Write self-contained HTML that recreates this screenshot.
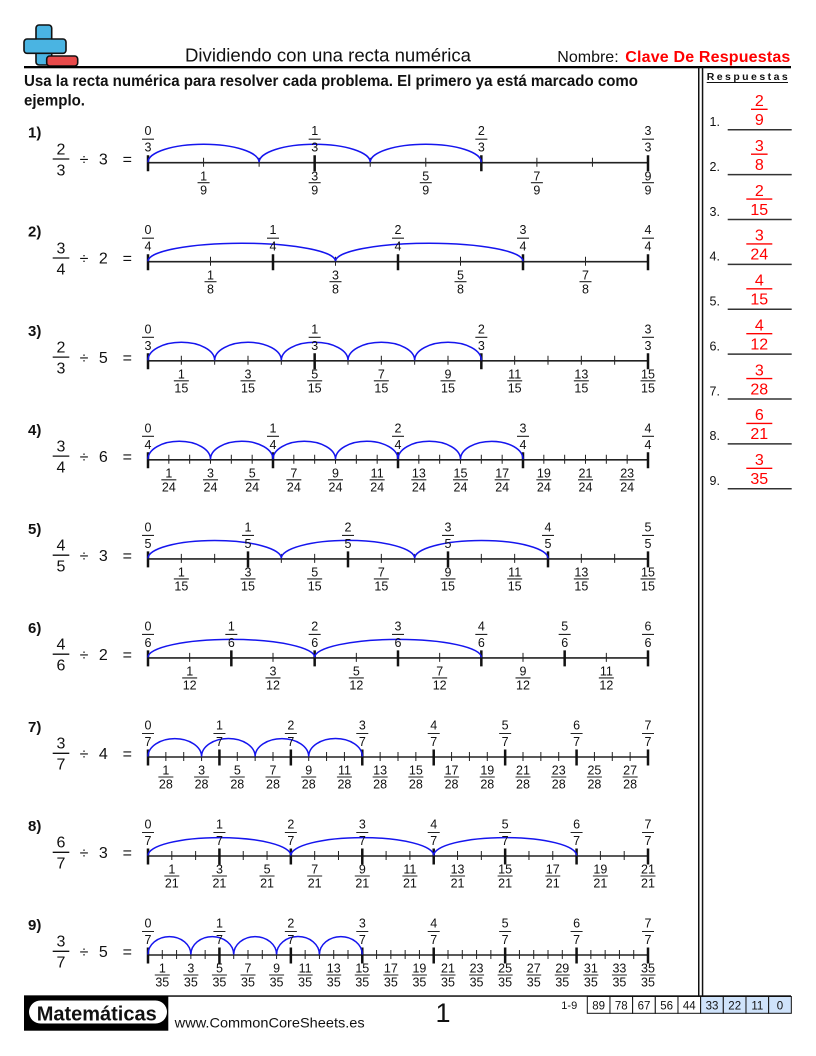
<!DOCTYPE html>
<html><head><meta charset="utf-8">
<style>
html,body{margin:0;padding:0;background:#fff;}
svg{display:block;}
text{font-family:"Liberation Sans",sans-serif;fill:#111;}
.t{font-size:12.5px;text-anchor:middle;}
.e{font-size:16px;text-anchor:middle;}
.n{font-size:15px;font-weight:bold;}
.ax{stroke:#222;stroke-width:1.6;}
.mi{stroke:#222;stroke-width:9;}
.ma{stroke:#111;stroke-width:16;}
.br{stroke:#222;stroke-width:1.1;}
.eb{stroke:#111;stroke-width:1.3;}
.arc{fill:none;stroke:#1515ee;stroke-width:1.5;}
.r{fill:#f00;font-size:16px;text-anchor:middle;}
.rb{stroke:#f00;stroke-width:1.3;}
.al{stroke:#333;stroke-width:1.5;}
.bx{font-size:11.5px;text-anchor:middle;}
.q{font-size:12.5px;}
</style></head>
<body>
<svg width="816" height="1056" viewBox="0 0 816 1056" xmlns="http://www.w3.org/2000/svg">
<!-- logo -->
<rect x="36" y="25" width="15.7" height="40" rx="3" fill="#4ab4e2" stroke="#111" stroke-width="1.6"/>
<rect x="24" y="39" width="42" height="14.3" rx="3" fill="#4ab4e2" stroke="#111" stroke-width="1.6"/>
<rect x="36.8" y="39.8" width="14.1" height="12.7" fill="#4ab4e2"/>
<rect x="46.7" y="56" width="31" height="10" rx="3" fill="#e84a4a" stroke="#111" stroke-width="1.6"/>
<!-- header -->
<text x="328" y="61.7" font-size="18.5" text-anchor="middle" textLength="286" lengthAdjust="spacingAndGlyphs">Dividiendo con una recta numérica</text>
<text x="557.3" y="62" font-size="16">Nombre:</text>
<text x="625.3" y="62" font-size="16" font-weight="bold" style="fill:#f00" textLength="165" lengthAdjust="spacing">Clave De Respuestas</text>
<rect x="24" y="66" width="767" height="2.3" fill="#000"/>
<text x="24" y="86" font-size="15.5" font-weight="bold" textLength="614" lengthAdjust="spacingAndGlyphs">Usa la recta numérica para resolver cada problema. El primero ya está marcado como</text>
<text x="24" y="105.5" font-size="15.5" font-weight="bold" textLength="61" lengthAdjust="spacingAndGlyphs">ejemplo.</text>
<!-- double vertical line -->
<rect x="698" y="67" width="1.5" height="929" fill="#111"/>
<rect x="701.8" y="67" width="1.5" height="929" fill="#111"/>
<!-- answers -->
<text x="706.7" y="80" font-size="10.5" font-weight="bold" textLength="81" lengthAdjust="spacing">Respuestas</text>
<line x1="706.7" x2="788" y1="82.5" y2="82.5" stroke="#111" stroke-width="1"/>

<g transform="translate(0,129.7)"><text x="709.5" y="-3.7" class="q">1.</text><line class="al" x1="727.7" x2="791.7" y1="0" y2="0"/><text class="r" x="759.3" y="-23.7">2</text><line class="rb" x1="751" x2="767.6" y1="-20.4" y2="-20.4"/><text class="r" x="759.3" y="-4.7">9</text></g>
<g transform="translate(0,174.58)"><text x="709.5" y="-3.7" class="q">2.</text><line class="al" x1="727.7" x2="791.7" y1="0" y2="0"/><text class="r" x="759.3" y="-23.7">3</text><line class="rb" x1="751" x2="767.6" y1="-20.4" y2="-20.4"/><text class="r" x="759.3" y="-4.7">8</text></g>
<g transform="translate(0,219.45)"><text x="709.5" y="-3.7" class="q">3.</text><line class="al" x1="727.7" x2="791.7" y1="0" y2="0"/><text class="r" x="759.3" y="-23.7">2</text><line class="rb" x1="746.3" x2="772.3" y1="-20.4" y2="-20.4"/><text class="r" x="759.3" y="-4.7">15</text></g>
<g transform="translate(0,264.33)"><text x="709.5" y="-3.7" class="q">4.</text><line class="al" x1="727.7" x2="791.7" y1="0" y2="0"/><text class="r" x="759.3" y="-23.7">3</text><line class="rb" x1="746.3" x2="772.3" y1="-20.4" y2="-20.4"/><text class="r" x="759.3" y="-4.7">24</text></g>
<g transform="translate(0,309.2)"><text x="709.5" y="-3.7" class="q">5.</text><line class="al" x1="727.7" x2="791.7" y1="0" y2="0"/><text class="r" x="759.3" y="-23.7">4</text><line class="rb" x1="746.3" x2="772.3" y1="-20.4" y2="-20.4"/><text class="r" x="759.3" y="-4.7">15</text></g>
<g transform="translate(0,354.08)"><text x="709.5" y="-3.7" class="q">6.</text><line class="al" x1="727.7" x2="791.7" y1="0" y2="0"/><text class="r" x="759.3" y="-23.7">4</text><line class="rb" x1="746.3" x2="772.3" y1="-20.4" y2="-20.4"/><text class="r" x="759.3" y="-4.7">12</text></g>
<g transform="translate(0,398.95)"><text x="709.5" y="-3.7" class="q">7.</text><line class="al" x1="727.7" x2="791.7" y1="0" y2="0"/><text class="r" x="759.3" y="-23.7">3</text><line class="rb" x1="746.3" x2="772.3" y1="-20.4" y2="-20.4"/><text class="r" x="759.3" y="-4.7">28</text></g>
<g transform="translate(0,443.83)"><text x="709.5" y="-3.7" class="q">8.</text><line class="al" x1="727.7" x2="791.7" y1="0" y2="0"/><text class="r" x="759.3" y="-23.7">6</text><line class="rb" x1="746.3" x2="772.3" y1="-20.4" y2="-20.4"/><text class="r" x="759.3" y="-4.7">21</text></g>
<g transform="translate(0,488.7)"><text x="709.5" y="-3.7" class="q">9.</text><line class="al" x1="727.7" x2="791.7" y1="0" y2="0"/><text class="r" x="759.3" y="-23.7">3</text><line class="rb" x1="746.3" x2="772.3" y1="-20.4" y2="-20.4"/><text class="r" x="759.3" y="-4.7">35</text></g>

<!-- Problem 1 -->
<g transform="translate(0,162.7)">
<text x="28" y="-25" class="n">1)</text>
<text x="61" y="-8.4" class="e">2</text><line class="eb" x1="52.7" x2="69.3" y1="-3.7" y2="-3.7"/><text x="61" y="12.6" class="e">3</text>
<text x="84" y="2" class="e">÷</text><text x="103.3" y="2" class="e">3</text><text x="127.3" y="2" class="e">=</text>
<line class="ax" x1="148" x2="648" y1="0" y2="0"/>
<line class="mi" x1="147.5" x2="648.6" y1="-0.5" y2="-0.5" stroke-dasharray="1 54.556"/>
<line class="ma" x1="146.75" x2="649.3" y1="0.5" y2="0.5" stroke-dasharray="2.5 164.167"/>
<path class="arc" d="M148,-0.5 A55.556,18 0 0 1 259.111,-0.5 A55.556,18 0 0 1 370.222,-0.5 A55.556,18 0 0 1 481.333,-0.5"/>
<line class="br" x1="142" x2="655" y1="-23.5" y2="-23.5" stroke-dasharray="12 154.667"/>
<text class="t" y="-27.5"><tspan x="148">0</tspan><tspan x="314.67">1</tspan><tspan x="481.33">2</tspan><tspan x="648">3</tspan></text>
<text class="t" y="-11"><tspan x="148">3</tspan><tspan x="314.67">3</tspan><tspan x="481.33">3</tspan><tspan x="648">3</tspan></text>
<line class="br" x1="197.556" x2="655" y1="20" y2="20" stroke-dasharray="12 99.111"/>
<text class="t" y="17.7"><tspan x="203.56">1</tspan><tspan x="314.67">3</tspan><tspan x="425.78">5</tspan><tspan x="536.89">7</tspan><tspan x="648">9</tspan></text>
<text class="t" y="31.7"><tspan x="203.56">9</tspan><tspan x="314.67">9</tspan><tspan x="425.78">9</tspan><tspan x="536.89">9</tspan><tspan x="648">9</tspan></text>
</g>

<!-- Problem 2 -->
<g transform="translate(0,261.7)">
<text x="28" y="-25" class="n">2)</text>
<text x="61" y="-8.4" class="e">3</text><line class="eb" x1="52.7" x2="69.3" y1="-3.7" y2="-3.7"/><text x="61" y="12.6" class="e">4</text>
<text x="84" y="2" class="e">÷</text><text x="103.3" y="2" class="e">2</text><text x="127.3" y="2" class="e">=</text>
<line class="ax" x1="148" x2="648" y1="0" y2="0"/>
<line class="mi" x1="147.5" x2="648.6" y1="-0.5" y2="-0.5" stroke-dasharray="1 61.5"/>
<line class="ma" x1="146.75" x2="649.3" y1="0.5" y2="0.5" stroke-dasharray="2.5 122.5"/>
<path class="arc" d="M148,-0.5 A93.75,18 0 0 1 335.5,-0.5 A93.75,18 0 0 1 523,-0.5"/>
<line class="br" x1="142" x2="655" y1="-23.5" y2="-23.5" stroke-dasharray="12 113"/>
<text class="t" y="-27.5"><tspan x="148">0</tspan><tspan x="273">1</tspan><tspan x="398">2</tspan><tspan x="523">3</tspan><tspan x="648">4</tspan></text>
<text class="t" y="-11"><tspan x="148">4</tspan><tspan x="273">4</tspan><tspan x="398">4</tspan><tspan x="523">4</tspan><tspan x="648">4</tspan></text>
<line class="br" x1="204.5" x2="655" y1="20" y2="20" stroke-dasharray="12 113"/>
<text class="t" y="17.7"><tspan x="210.5">1</tspan><tspan x="335.5">3</tspan><tspan x="460.5">5</tspan><tspan x="585.5">7</tspan></text>
<text class="t" y="31.7"><tspan x="210.5">8</tspan><tspan x="335.5">8</tspan><tspan x="460.5">8</tspan><tspan x="585.5">8</tspan></text>
</g>

<!-- Problem 3 -->
<g transform="translate(0,360.8)">
<text x="28" y="-25" class="n">3)</text>
<text x="61" y="-8.4" class="e">2</text><line class="eb" x1="52.7" x2="69.3" y1="-3.7" y2="-3.7"/><text x="61" y="12.6" class="e">3</text>
<text x="84" y="2" class="e">÷</text><text x="103.3" y="2" class="e">5</text><text x="127.3" y="2" class="e">=</text>
<line class="ax" x1="148" x2="648" y1="0" y2="0"/>
<line class="mi" x1="147.5" x2="648.6" y1="-0.5" y2="-0.5" stroke-dasharray="1 32.333"/>
<line class="ma" x1="146.75" x2="649.3" y1="0.5" y2="0.5" stroke-dasharray="2.5 164.167"/>
<path class="arc" d="M148,-0.5 A33.333,18 0 0 1 214.667,-0.5 A33.333,18 0 0 1 281.333,-0.5 A33.333,18 0 0 1 348,-0.5 A33.333,18 0 0 1 414.667,-0.5 A33.333,18 0 0 1 481.333,-0.5"/>
<line class="br" x1="142" x2="655" y1="-23.5" y2="-23.5" stroke-dasharray="12 154.667"/>
<text class="t" y="-27.5"><tspan x="148">0</tspan><tspan x="314.67">1</tspan><tspan x="481.33">2</tspan><tspan x="648">3</tspan></text>
<text class="t" y="-11"><tspan x="148">3</tspan><tspan x="314.67">3</tspan><tspan x="481.33">3</tspan><tspan x="648">3</tspan></text>
<line class="br" x1="173.833" x2="656" y1="20" y2="20" stroke-dasharray="15 51.667"/>
<text class="t" y="17.7"><tspan x="181.33">1</tspan><tspan x="248">3</tspan><tspan x="314.67">5</tspan><tspan x="381.33">7</tspan><tspan x="448">9</tspan><tspan x="514.67">11</tspan><tspan x="581.33">13</tspan><tspan x="648">15</tspan></text>
<text class="t" y="31.7"><tspan x="181.33">15</tspan><tspan x="248">15</tspan><tspan x="314.67">15</tspan><tspan x="381.33">15</tspan><tspan x="448">15</tspan><tspan x="514.67">15</tspan><tspan x="581.33">15</tspan><tspan x="648">15</tspan></text>
</g>

<!-- Problem 4 -->
<g transform="translate(0,459.8)">
<text x="28" y="-25" class="n">4)</text>
<text x="61" y="-8.4" class="e">3</text><line class="eb" x1="52.7" x2="69.3" y1="-3.7" y2="-3.7"/><text x="61" y="12.6" class="e">4</text>
<text x="84" y="2" class="e">÷</text><text x="103.3" y="2" class="e">6</text><text x="127.3" y="2" class="e">=</text>
<line class="ax" x1="148" x2="648" y1="0" y2="0"/>
<line class="mi" x1="147.5" x2="648.6" y1="-0.5" y2="-0.5" stroke-dasharray="1 19.833"/>
<line class="ma" x1="146.75" x2="649.3" y1="0.5" y2="0.5" stroke-dasharray="2.5 122.5"/>
<path class="arc" d="M148,-0.5 A31.25,18 0 0 1 210.5,-0.5 A31.25,18 0 0 1 273,-0.5 A31.25,18 0 0 1 335.5,-0.5 A31.25,18 0 0 1 398,-0.5 A31.25,18 0 0 1 460.5,-0.5 A31.25,18 0 0 1 523,-0.5"/>
<line class="br" x1="142" x2="655" y1="-23.5" y2="-23.5" stroke-dasharray="12 113"/>
<text class="t" y="-27.5"><tspan x="148">0</tspan><tspan x="273">1</tspan><tspan x="398">2</tspan><tspan x="523">3</tspan><tspan x="648">4</tspan></text>
<text class="t" y="-11"><tspan x="148">4</tspan><tspan x="273">4</tspan><tspan x="398">4</tspan><tspan x="523">4</tspan><tspan x="648">4</tspan></text>
<line class="br" x1="161.333" x2="636" y1="20" y2="20" stroke-dasharray="15 26.667"/>
<text class="t" y="17.7"><tspan x="168.83">1</tspan><tspan x="210.5">3</tspan><tspan x="252.17">5</tspan><tspan x="293.83">7</tspan><tspan x="335.5">9</tspan><tspan x="377.17">11</tspan><tspan x="418.83">13</tspan><tspan x="460.5">15</tspan><tspan x="502.17">17</tspan><tspan x="543.83">19</tspan><tspan x="585.5">21</tspan><tspan x="627.17">23</tspan></text>
<text class="t" y="31.7"><tspan x="168.83">24</tspan><tspan x="210.5">24</tspan><tspan x="252.17">24</tspan><tspan x="293.83">24</tspan><tspan x="335.5">24</tspan><tspan x="377.17">24</tspan><tspan x="418.83">24</tspan><tspan x="460.5">24</tspan><tspan x="502.17">24</tspan><tspan x="543.83">24</tspan><tspan x="585.5">24</tspan><tspan x="627.17">24</tspan></text>
</g>

<!-- Problem 5 -->
<g transform="translate(0,558.9)">
<text x="28" y="-25" class="n">5)</text>
<text x="61" y="-8.4" class="e">4</text><line class="eb" x1="52.7" x2="69.3" y1="-3.7" y2="-3.7"/><text x="61" y="12.6" class="e">5</text>
<text x="84" y="2" class="e">÷</text><text x="103.3" y="2" class="e">3</text><text x="127.3" y="2" class="e">=</text>
<line class="ax" x1="148" x2="648" y1="0" y2="0"/>
<line class="mi" x1="147.5" x2="648.6" y1="-0.5" y2="-0.5" stroke-dasharray="1 32.333"/>
<line class="ma" x1="146.75" x2="649.3" y1="0.5" y2="0.5" stroke-dasharray="2.5 97.5"/>
<path class="arc" d="M148,-0.5 A66.667,18 0 0 1 281.333,-0.5 A66.667,18 0 0 1 414.667,-0.5 A66.667,18 0 0 1 548,-0.5"/>
<line class="br" x1="142" x2="655" y1="-23.5" y2="-23.5" stroke-dasharray="12 88"/>
<text class="t" y="-27.5"><tspan x="148">0</tspan><tspan x="248">1</tspan><tspan x="348">2</tspan><tspan x="448">3</tspan><tspan x="548">4</tspan><tspan x="648">5</tspan></text>
<text class="t" y="-11"><tspan x="148">5</tspan><tspan x="248">5</tspan><tspan x="348">5</tspan><tspan x="448">5</tspan><tspan x="548">5</tspan><tspan x="648">5</tspan></text>
<line class="br" x1="173.833" x2="656" y1="20" y2="20" stroke-dasharray="15 51.667"/>
<text class="t" y="17.7"><tspan x="181.33">1</tspan><tspan x="248">3</tspan><tspan x="314.67">5</tspan><tspan x="381.33">7</tspan><tspan x="448">9</tspan><tspan x="514.67">11</tspan><tspan x="581.33">13</tspan><tspan x="648">15</tspan></text>
<text class="t" y="31.7"><tspan x="181.33">15</tspan><tspan x="248">15</tspan><tspan x="314.67">15</tspan><tspan x="381.33">15</tspan><tspan x="448">15</tspan><tspan x="514.67">15</tspan><tspan x="581.33">15</tspan><tspan x="648">15</tspan></text>
</g>

<!-- Problem 6 -->
<g transform="translate(0,657.9)">
<text x="28" y="-25" class="n">6)</text>
<text x="61" y="-8.4" class="e">4</text><line class="eb" x1="52.7" x2="69.3" y1="-3.7" y2="-3.7"/><text x="61" y="12.6" class="e">6</text>
<text x="84" y="2" class="e">÷</text><text x="103.3" y="2" class="e">2</text><text x="127.3" y="2" class="e">=</text>
<line class="ax" x1="148" x2="648" y1="0" y2="0"/>
<line class="mi" x1="147.5" x2="648.6" y1="-0.5" y2="-0.5" stroke-dasharray="1 40.667"/>
<line class="ma" x1="146.75" x2="649.3" y1="0.5" y2="0.5" stroke-dasharray="2.5 80.833"/>
<path class="arc" d="M148,-0.5 A83.333,18 0 0 1 314.667,-0.5 A83.333,18 0 0 1 481.333,-0.5"/>
<line class="br" x1="142" x2="655" y1="-23.5" y2="-23.5" stroke-dasharray="12 71.333"/>
<text class="t" y="-27.5"><tspan x="148">0</tspan><tspan x="231.33">1</tspan><tspan x="314.67">2</tspan><tspan x="398">3</tspan><tspan x="481.33">4</tspan><tspan x="564.67">5</tspan><tspan x="648">6</tspan></text>
<text class="t" y="-11"><tspan x="148">6</tspan><tspan x="231.33">6</tspan><tspan x="314.67">6</tspan><tspan x="398">6</tspan><tspan x="481.33">6</tspan><tspan x="564.67">6</tspan><tspan x="648">6</tspan></text>
<line class="br" x1="182.167" x2="615" y1="20" y2="20" stroke-dasharray="15 68.333"/>
<text class="t" y="17.7"><tspan x="189.67">1</tspan><tspan x="273">3</tspan><tspan x="356.33">5</tspan><tspan x="439.67">7</tspan><tspan x="523">9</tspan><tspan x="606.33">11</tspan></text>
<text class="t" y="31.7"><tspan x="189.67">12</tspan><tspan x="273">12</tspan><tspan x="356.33">12</tspan><tspan x="439.67">12</tspan><tspan x="523">12</tspan><tspan x="606.33">12</tspan></text>
</g>

<!-- Problem 7 -->
<g transform="translate(0,757)">
<text x="28" y="-25" class="n">7)</text>
<text x="61" y="-8.4" class="e">3</text><line class="eb" x1="52.7" x2="69.3" y1="-3.7" y2="-3.7"/><text x="61" y="12.6" class="e">7</text>
<text x="84" y="2" class="e">÷</text><text x="103.3" y="2" class="e">4</text><text x="127.3" y="2" class="e">=</text>
<line class="ax" x1="148" x2="648" y1="0" y2="0"/>
<line class="mi" x1="147.5" x2="648.6" y1="-0.5" y2="-0.5" stroke-dasharray="1 16.857"/>
<line class="ma" x1="146.75" x2="649.3" y1="0.5" y2="0.5" stroke-dasharray="2.5 68.929"/>
<path class="arc" d="M148,-0.5 A26.786,18 0 0 1 201.571,-0.5 A26.786,18 0 0 1 255.143,-0.5 A26.786,18 0 0 1 308.714,-0.5 A26.786,18 0 0 1 362.286,-0.5"/>
<line class="br" x1="142" x2="655" y1="-23.5" y2="-23.5" stroke-dasharray="12 59.429"/>
<text class="t" y="-27.5"><tspan x="148">0</tspan><tspan x="219.43">1</tspan><tspan x="290.86">2</tspan><tspan x="362.29">3</tspan><tspan x="433.71">4</tspan><tspan x="505.14">5</tspan><tspan x="576.57">6</tspan><tspan x="648">7</tspan></text>
<text class="t" y="-11"><tspan x="148">7</tspan><tspan x="219.43">7</tspan><tspan x="290.86">7</tspan><tspan x="362.29">7</tspan><tspan x="433.71">7</tspan><tspan x="505.14">7</tspan><tspan x="576.57">7</tspan><tspan x="648">7</tspan></text>
<line class="br" x1="158.357" x2="639" y1="20" y2="20" stroke-dasharray="15 20.714"/>
<text class="t" y="17.7"><tspan x="165.86">1</tspan><tspan x="201.57">3</tspan><tspan x="237.29">5</tspan><tspan x="273">7</tspan><tspan x="308.71">9</tspan><tspan x="344.43">11</tspan><tspan x="380.14">13</tspan><tspan x="415.86">15</tspan><tspan x="451.57">17</tspan><tspan x="487.29">19</tspan><tspan x="523">21</tspan><tspan x="558.71">23</tspan><tspan x="594.43">25</tspan><tspan x="630.14">27</tspan></text>
<text class="t" y="31.7"><tspan x="165.86">28</tspan><tspan x="201.57">28</tspan><tspan x="237.29">28</tspan><tspan x="273">28</tspan><tspan x="308.71">28</tspan><tspan x="344.43">28</tspan><tspan x="380.14">28</tspan><tspan x="415.86">28</tspan><tspan x="451.57">28</tspan><tspan x="487.29">28</tspan><tspan x="523">28</tspan><tspan x="558.71">28</tspan><tspan x="594.43">28</tspan><tspan x="630.14">28</tspan></text>
</g>

<!-- Problem 8 -->
<g transform="translate(0,856)">
<text x="28" y="-25" class="n">8)</text>
<text x="61" y="-8.4" class="e">6</text><line class="eb" x1="52.7" x2="69.3" y1="-3.7" y2="-3.7"/><text x="61" y="12.6" class="e">7</text>
<text x="84" y="2" class="e">÷</text><text x="103.3" y="2" class="e">3</text><text x="127.3" y="2" class="e">=</text>
<line class="ax" x1="148" x2="648" y1="0" y2="0"/>
<line class="mi" x1="147.5" x2="648.6" y1="-0.5" y2="-0.5" stroke-dasharray="1 22.810"/>
<line class="ma" x1="146.75" x2="649.3" y1="0.5" y2="0.5" stroke-dasharray="2.5 68.929"/>
<path class="arc" d="M148,-0.5 A71.429,18 0 0 1 290.857,-0.5 A71.429,18 0 0 1 433.714,-0.5 A71.429,18 0 0 1 576.571,-0.5"/>
<line class="br" x1="142" x2="655" y1="-23.5" y2="-23.5" stroke-dasharray="12 59.429"/>
<text class="t" y="-27.5"><tspan x="148">0</tspan><tspan x="219.43">1</tspan><tspan x="290.86">2</tspan><tspan x="362.29">3</tspan><tspan x="433.71">4</tspan><tspan x="505.14">5</tspan><tspan x="576.57">6</tspan><tspan x="648">7</tspan></text>
<text class="t" y="-11"><tspan x="148">7</tspan><tspan x="219.43">7</tspan><tspan x="290.86">7</tspan><tspan x="362.29">7</tspan><tspan x="433.71">7</tspan><tspan x="505.14">7</tspan><tspan x="576.57">7</tspan><tspan x="648">7</tspan></text>
<line class="br" x1="164.31" x2="656" y1="20" y2="20" stroke-dasharray="15 32.619"/>
<text class="t" y="17.7"><tspan x="171.81">1</tspan><tspan x="219.43">3</tspan><tspan x="267.05">5</tspan><tspan x="314.67">7</tspan><tspan x="362.29">9</tspan><tspan x="409.9">11</tspan><tspan x="457.52">13</tspan><tspan x="505.14">15</tspan><tspan x="552.76">17</tspan><tspan x="600.38">19</tspan><tspan x="648">21</tspan></text>
<text class="t" y="31.7"><tspan x="171.81">21</tspan><tspan x="219.43">21</tspan><tspan x="267.05">21</tspan><tspan x="314.67">21</tspan><tspan x="362.29">21</tspan><tspan x="409.9">21</tspan><tspan x="457.52">21</tspan><tspan x="505.14">21</tspan><tspan x="552.76">21</tspan><tspan x="600.38">21</tspan><tspan x="648">21</tspan></text>
</g>

<!-- Problem 9 -->
<g transform="translate(0,955)">
<text x="28" y="-25" class="n">9)</text>
<text x="61" y="-8.4" class="e">3</text><line class="eb" x1="52.7" x2="69.3" y1="-3.7" y2="-3.7"/><text x="61" y="12.6" class="e">7</text>
<text x="84" y="2" class="e">÷</text><text x="103.3" y="2" class="e">5</text><text x="127.3" y="2" class="e">=</text>
<line class="ax" x1="148" x2="648" y1="0" y2="0"/>
<line class="mi" x1="147.5" x2="648.6" y1="-0.5" y2="-0.5" stroke-dasharray="1 13.286"/>
<line class="ma" x1="146.75" x2="649.3" y1="0.5" y2="0.5" stroke-dasharray="2.5 68.929"/>
<path class="arc" d="M148,-0.5 A21.429,18 0 0 1 190.857,-0.5 A21.429,18 0 0 1 233.714,-0.5 A21.429,18 0 0 1 276.571,-0.5 A21.429,18 0 0 1 319.429,-0.5 A21.429,18 0 0 1 362.286,-0.5"/>
<line class="br" x1="142" x2="655" y1="-23.5" y2="-23.5" stroke-dasharray="12 59.429"/>
<text class="t" y="-27.5"><tspan x="148">0</tspan><tspan x="219.43">1</tspan><tspan x="290.86">2</tspan><tspan x="362.29">3</tspan><tspan x="433.71">4</tspan><tspan x="505.14">5</tspan><tspan x="576.57">6</tspan><tspan x="648">7</tspan></text>
<text class="t" y="-11"><tspan x="148">7</tspan><tspan x="219.43">7</tspan><tspan x="290.86">7</tspan><tspan x="362.29">7</tspan><tspan x="433.71">7</tspan><tspan x="505.14">7</tspan><tspan x="576.57">7</tspan><tspan x="648">7</tspan></text>
<line class="br" x1="154.786" x2="656" y1="20" y2="20" stroke-dasharray="15 13.571"/>
<text class="t" y="17.7"><tspan x="162.29">1</tspan><tspan x="190.86">3</tspan><tspan x="219.43">5</tspan><tspan x="248">7</tspan><tspan x="276.57">9</tspan><tspan x="305.14">11</tspan><tspan x="333.71">13</tspan><tspan x="362.29">15</tspan><tspan x="390.86">17</tspan><tspan x="419.43">19</tspan><tspan x="448">21</tspan><tspan x="476.57">23</tspan><tspan x="505.14">25</tspan><tspan x="533.71">27</tspan><tspan x="562.29">29</tspan><tspan x="590.86">31</tspan><tspan x="619.43">33</tspan><tspan x="648">35</tspan></text>
<text class="t" y="31.7"><tspan x="162.29">35</tspan><tspan x="190.86">35</tspan><tspan x="219.43">35</tspan><tspan x="248">35</tspan><tspan x="276.57">35</tspan><tspan x="305.14">35</tspan><tspan x="333.71">35</tspan><tspan x="362.29">35</tspan><tspan x="390.86">35</tspan><tspan x="419.43">35</tspan><tspan x="448">35</tspan><tspan x="476.57">35</tspan><tspan x="505.14">35</tspan><tspan x="533.71">35</tspan><tspan x="562.29">35</tspan><tspan x="590.86">35</tspan><tspan x="619.43">35</tspan><tspan x="648">35</tspan></text>
</g>

<!-- footer -->
<rect x="24" y="995.3" width="767" height="1.5" fill="#111"/>
<rect x="24" y="996" width="144.3" height="34.7" fill="#000"/>
<rect x="29" y="1000.5" width="138" height="23" rx="11.5" fill="#fff"/>
<text x="96.7" y="1020.5" font-size="20" font-weight="bold" text-anchor="middle" textLength="120" lengthAdjust="spacingAndGlyphs">Matemáticas</text>
<text x="174.7" y="1027.7" font-size="14" textLength="190" lengthAdjust="spacingAndGlyphs">www.CommonCoreSheets.es</text>
<text x="443" y="1022" font-size="27" text-anchor="middle">1</text>
<text x="561.3" y="1009" font-size="11">1-9</text>
<g stroke="#111" stroke-width="1">
<rect x="587.3" y="996.5" width="22.67" height="16.8" fill="#fff"/>
<rect x="609.97" y="996.5" width="22.67" height="16.8" fill="#fff"/>
<rect x="632.64" y="996.5" width="22.67" height="16.8" fill="#fff"/>
<rect x="655.31" y="996.5" width="22.67" height="16.8" fill="#fff"/>
<rect x="677.98" y="996.5" width="22.67" height="16.8" fill="#fff"/>
<rect x="700.65" y="996.5" width="22.67" height="16.8" fill="#cfe3fb"/>
<rect x="723.32" y="996.5" width="22.67" height="16.8" fill="#cfe3fb"/>
<rect x="745.99" y="996.5" width="22.67" height="16.8" fill="#cfe3fb"/>
<rect x="768.66" y="996.5" width="22.67" height="16.8" fill="#cfe3fb"/>
</g>
<text class="bx" y="1009.3"><tspan x="598.6">89</tspan><tspan x="621.3">78</tspan><tspan x="644">67</tspan><tspan x="666.6">56</tspan><tspan x="689.3">44</tspan><tspan x="712">33</tspan><tspan x="734.7">22</tspan><tspan x="757.3">11</tspan><tspan x="780">0</tspan></text>
</svg>
</body></html>
